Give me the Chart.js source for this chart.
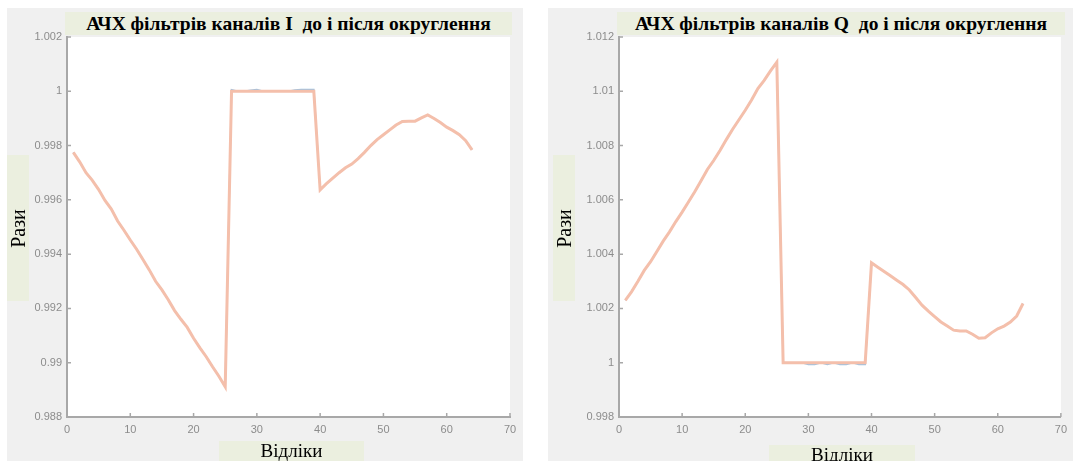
<!DOCTYPE html>
<html>
<head>
<meta charset="utf-8">
<script src="https://cdn.jsdelivr.net/npm/chart.js@4/dist/chart.umd.min.js"></script>
<style>
  html, body { margin: 0; padding: 0; }
  body { width: 1073px; height: 461px; background: #ffffff; position: relative; overflow: hidden; }
  .panel { position: absolute; background: #f0f0f0; }
  canvas { position: absolute; top: 0; }
  .lbl {
    position: absolute; background: #ebefdf; color: #000;
    font-family: "Liberation Serif", "DejaVu Serif", serif;
    display: flex; align-items: center; justify-content: center; white-space: pre;
    overflow: visible;
  }
  .title { font-weight: bold; font-size: 19.5px; }
  .xlab { font-size: 19px; }
  .ylab { font-size: 20px; }
  .ylab span { display: inline-block; transform: rotate(-90deg); }
</style>
</head>
<body>
<div class="panel" style="left:7px;top:8px;width:516px;height:453px"></div>
<div class="panel" style="left:548px;top:8px;width:525px;height:453px"></div>

<canvas id="chartI" width="540" height="461" style="left:0"></canvas>
<canvas id="chartQ" width="533" height="461" style="left:540px"></canvas>

<div class="lbl title" style="left:65px;top:12px;width:447px;height:23px">АЧХ фільтрів каналів I  до і після округлення</div>
<div class="lbl title" style="left:617px;top:12px;width:448px;height:23px">АЧХ фільтрів каналів Q  до і після округлення</div>
<div class="lbl ylab" style="left:7px;top:155px;width:22px;height:146px"><span>Рази</span></div>
<div class="lbl ylab" style="left:553px;top:155px;width:22px;height:146px"><span>Рази</span></div>
<div class="lbl xlab" style="left:219px;top:441px;width:145px;height:20px">Відліки</div>
<div class="lbl xlab" style="left:769px;top:445px;width:146px;height:16px;align-items:flex-start"><span style="margin-top:-1px">Відліки</span></div>

<script>
// Sample index (відліки)
const samples = [
  1, 2, 3, 4, 5, 6, 7, 8, 9, 10, 11, 12, 13, 14, 15, 16,
  17, 18, 19, 20, 21, 22, 23, 24, 25, 26, 27, 28, 29, 30, 31, 32,
  33, 34, 35, 36, 37, 38, 39, 40, 41, 42, 43, 44, 45, 46, 47, 48,
  49, 50, 51, 52, 53, 54, 55, 56, 57, 58, 59, 60, 61, 62, 63, 64
];

// Channel I: response before rounding
const iBefore = [
  0.99775, 0.99740, 0.99700, 0.99672, 0.99638, 0.99598, 0.99566, 0.99522,
  0.99488, 0.99452, 0.99418, 0.99380, 0.99342, 0.99300, 0.99268, 0.99232,
  0.99192, 0.99160, 0.99130, 0.99090, 0.99055, 0.99022, 0.98985, 0.98950,
  0.98911, 1.00006, 1.00000, 1.00000, 1.00004, 1.00006, 1.00000, 1.00000,
  1.00000, 1.00000, 1.00000, 1.00005, 1.00006, 1.00006, 1.00006, 0.99637,
  0.99660, 0.99680, 0.99700, 0.99718, 0.99732, 0.99752, 0.99775, 0.99800,
  0.99822, 0.99840, 0.99858, 0.99876, 0.99889, 0.99890, 0.99890, 0.99902,
  0.99913, 0.99900, 0.99885, 0.99868, 0.99855, 0.99840, 0.99818, 0.99784
];
// Channel I: response after rounding
const iAfter = [
  0.99775, 0.99740, 0.99700, 0.99672, 0.99638, 0.99598, 0.99566, 0.99522,
  0.99488, 0.99452, 0.99418, 0.99380, 0.99342, 0.99300, 0.99268, 0.99232,
  0.99192, 0.99160, 0.99130, 0.99090, 0.99055, 0.99022, 0.98985, 0.98950,
  0.98911, 1.00000, 1.00000, 1.00000, 1.00000, 1.00000, 1.00000, 1.00000,
  1.00000, 1.00000, 1.00000, 1.00000, 1.00000, 1.00000, 1.00000, 0.99637,
  0.99660, 0.99680, 0.99700, 0.99718, 0.99732, 0.99752, 0.99775, 0.99800,
  0.99822, 0.99840, 0.99858, 0.99876, 0.99889, 0.99890, 0.99890, 0.99902,
  0.99913, 0.99900, 0.99885, 0.99868, 0.99855, 0.99840, 0.99818, 0.99784
];

// Channel Q: response before rounding
const qBefore = [
  1.00230, 1.00262, 1.00300, 1.00340, 1.00372, 1.00410, 1.00448, 1.00482,
  1.00520, 1.00555, 1.00592, 1.00630, 1.00670, 1.00712, 1.00745, 1.00782,
  1.00822, 1.00860, 1.00895, 1.00930, 1.00968, 1.01010, 1.01040, 1.01075,
  1.01107, 1.00000, 1.00000, 1.00000, 1.00000, 0.99994, 0.99994, 1.00000,
  0.99994, 1.00000, 0.99994, 0.99994, 1.00000, 0.99994, 0.99994, 1.00368,
  1.00352, 1.00336, 1.00320, 1.00304, 1.00288, 1.00268, 1.00240, 1.00212,
  1.00190, 1.00170, 1.00150, 1.00135, 1.00120, 1.00117, 1.00117, 1.00105,
  1.00090, 1.00092, 1.00110, 1.00125, 1.00135, 1.00150, 1.00172, 1.00218
];
// Channel Q: response after rounding
const qAfter = [
  1.00230, 1.00262, 1.00300, 1.00340, 1.00372, 1.00410, 1.00448, 1.00482,
  1.00520, 1.00555, 1.00592, 1.00630, 1.00670, 1.00712, 1.00745, 1.00782,
  1.00822, 1.00860, 1.00895, 1.00930, 1.00968, 1.01010, 1.01040, 1.01075,
  1.01107, 1.00000, 1.00000, 1.00000, 1.00000, 1.00000, 1.00000, 1.00000,
  1.00000, 1.00000, 1.00000, 1.00000, 1.00000, 1.00000, 1.00000, 1.00368,
  1.00352, 1.00336, 1.00320, 1.00304, 1.00288, 1.00268, 1.00240, 1.00212,
  1.00190, 1.00170, 1.00150, 1.00135, 1.00120, 1.00117, 1.00117, 1.00105,
  1.00090, 1.00092, 1.00110, 1.00125, 1.00135, 1.00150, 1.00172, 1.00218
];

// Axis ranges and tick labels
const xTicks = [0, 10, 20, 30, 40, 50, 60, 70];
const iYTicks = [0.988, 0.99, 0.992, 0.994, 0.996, 0.998, 1, 1.002];
const qYTicks = [0.998, 1, 1.002, 1.004, 1.006, 1.008, 1.01, 1.012];

const AXIS_GREY = '#a8a8a8';
const TICK_TEXT = '#8c8c8c';
const BLUE = '#9cc2e2';
const ORANGE = '#f4bfab';

const toPoints = ys => samples.map((x, k) => ({ x, y: ys[k] }));

// White plot box and small inward tick marks
const plotBox = {
  id: 'plotBox',
  beforeDraw(chart) {
    const { ctx, chartArea: a } = chart;
    ctx.save();
    ctx.fillStyle = '#ffffff';
    ctx.fillRect(a.left, a.top, a.right - a.left, a.bottom - a.top);
    ctx.restore();
  },
  afterDraw(chart) {
    const { ctx, chartArea: a, scales } = chart;
    ctx.save();
    ctx.strokeStyle = AXIS_GREY;
    ctx.lineWidth = 1.5;
    ctx.beginPath();
    scales.x.ticks.forEach(t => {
      const px = scales.x.getPixelForValue(t.value);
      ctx.moveTo(px, a.bottom);
      ctx.lineTo(px, a.bottom - 4);
    });
    scales.y.ticks.forEach(t => {
      const py = scales.y.getPixelForValue(t.value);
      ctx.moveTo(a.left, py);
      ctx.lineTo(a.left + 4, py);
    });
    ctx.stroke();
    ctx.restore();
  }
};

function makeChart(id, before, after, yTicks, yAxisWidth, padRight) {
  const yMin = yTicks[0], yMax = yTicks[yTicks.length - 1];
  return new Chart(document.getElementById(id), {
    type: 'line',
    data: {
      datasets: [
        { data: toPoints(before), borderColor: BLUE, borderWidth: 1.6, pointRadius: 0, tension: 0, order: 2 },
        { data: toPoints(after), borderColor: ORANGE, borderWidth: 3, pointRadius: 0, tension: 0, order: 1 }
      ]
    },
    options: {
      responsive: false,
      animation: false,
      layout: { padding: { top: 37, right: padRight, bottom: 0, left: 0 } },
      plugins: { legend: { display: false }, tooltip: { enabled: false }, title: { display: false } },
      scales: {
        x: {
          type: 'linear', min: xTicks[0], max: xTicks[xTicks.length - 1],
          afterBuildTicks: s => { s.ticks = xTicks.map(v => ({ value: v })); },
          afterFit: s => { s.height = 44; },
          grid: { display: false, drawTicks: false },
          border: { display: true, color: AXIS_GREY, width: 2 },
          ticks: { color: TICK_TEXT, padding: 6, font: { family: 'Arial, "Liberation Sans", sans-serif', size: 11 }, maxRotation: 0 }
        },
        y: {
          type: 'linear', min: yMin, max: yMax,
          afterBuildTicks: s => { s.ticks = yTicks.map(v => ({ value: v })); },
          afterFit: s => { s.width = yAxisWidth; },
          grid: { display: false, drawTicks: false },
          border: { display: true, color: AXIS_GREY, width: 2 },
          ticks: { color: TICK_TEXT, padding: 5, font: { family: 'Arial, "Liberation Sans", sans-serif', size: 11 },
                   callback: v => String(+v.toFixed(3)) }
        }
      }
    },
    plugins: [plotBox]
  });
}

makeChart('chartI', iBefore, iAfter, iYTicks, 67, 30);
makeChart('chartQ', qBefore, qAfter, qYTicks, 79, 8);
</script>
</body>
</html>
